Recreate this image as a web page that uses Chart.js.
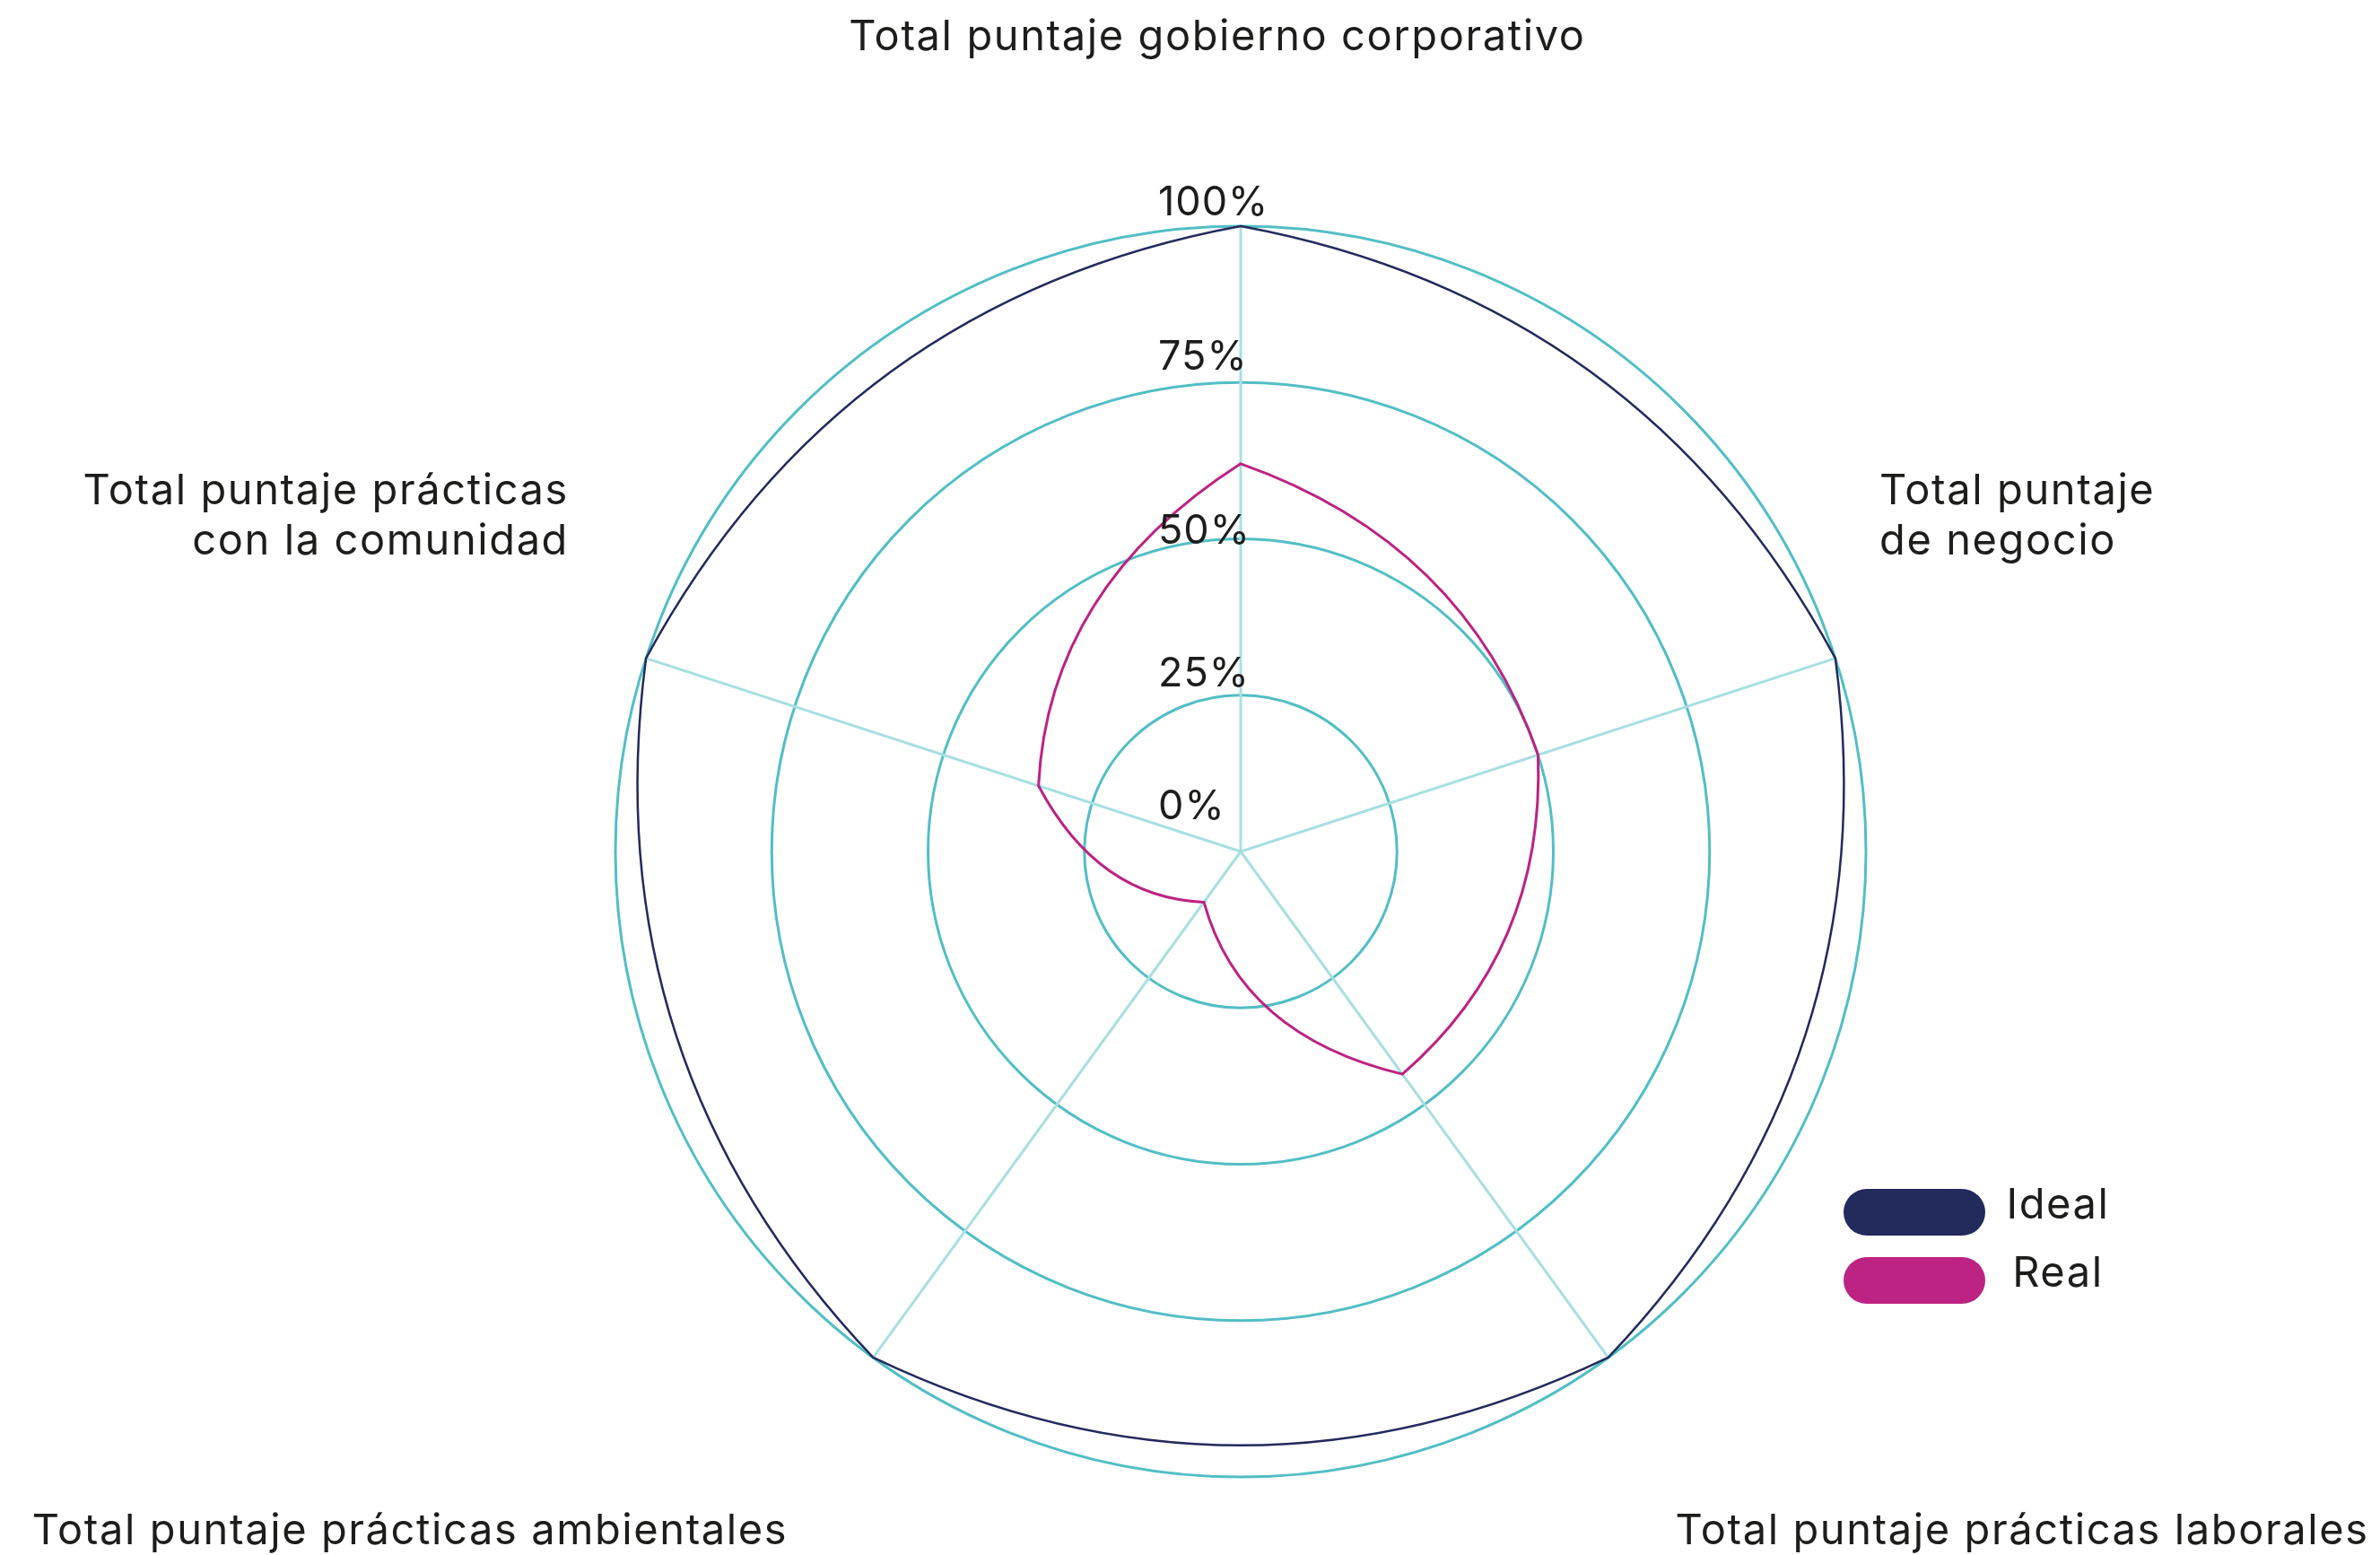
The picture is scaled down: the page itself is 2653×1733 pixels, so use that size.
<!DOCTYPE html>
<html>
<head>
<meta charset="utf-8">
<script src="https://cdn.jsdelivr.net/npm/chart.js@4.4.1/dist/chart.umd.min.js"></script>
<style>
    html, body { margin: 0; padding: 0; background: #ffffff; }
    #wrap { width: 2653px; height: 1733px; position: relative; }
</style>
</head>
<body>
<div id="wrap"><canvas id="chart"></canvas></div>
<script>
    const categories = [
        ['Total puntaje gobierno corporativo'],
        ['Total puntaje', 'de negocio'],
        ['Total puntaje prácticas laborales'],
        ['Total puntaje prácticas ambientales'],
        ['Total puntaje prácticas', 'con la comunidad']
    ];
    const idealValues = [100, 100, 100, 100, 100];
    const realValues = [62, 50, 44, 10, 34];
    const tickValues = [0, 25, 50, 75, 100];
    const tickLabels = ['0%', '25%', '50%', '75%', '100%'];

    const FONT = 'Inter, "Open Sans", sans-serif';
    const TEXT_COLOR = '#1d1d1b';

    // gap between each ring and the baseline of its tick label
    const tickGaps = [36, 10, -5, 14, 12];

    // where each category label sits, relative to the radar centre
    const labelSpots = [
        { dx: -26, dy: -893, align: 'center' },
        { dx: 712, dy: -387, align: 'left' },
        { dx: 871, dy: 772, align: 'center' },
        { dx: -926, dy: 772, align: 'center' },
        { dx: -749, dy: -387, align: 'right' }
    ];

    // segments between vertices bend outwards, with a corner at each vertex
    const polarCurves = {
        id: 'polarCurves',
        beforeDatasetsDraw(chart) {
            const scale = chart.scales.r;
            chart.data.datasets.forEach((ds, di) => {
                const meta = chart.getDatasetMeta(di);
                const pts = meta.data;
                const n = pts.length;
                for (let i = 0; i < n; i++) {
                    const a = pts[i];
                    const b = pts[(i + 1) % n];
                    const ra = Math.hypot(a.x - scale.xCenter, a.y - scale.yCenter);
                    const rb = Math.hypot(b.x - scale.xCenter, b.y - scale.yCenter);
                    const q = scale.getPointPosition(i + 0.5, 1.09 * (ra + rb) / 2);
                    a.cp2x = a.x + 2 / 3 * (q.x - a.x);
                    a.cp2y = a.y + 2 / 3 * (q.y - a.y);
                    b.cp1x = b.x + 2 / 3 * (q.x - b.x);
                    b.cp1y = b.y + 2 / 3 * (q.y - b.y);
                }
                meta.dataset._pointsUpdated = true;
                meta.dataset._path = undefined;
            });
        }
    };

    const textBits = {
        id: 'textBits',
        afterDatasetsDraw(chart) {
            const ctx = chart.ctx;
            const scale = chart.scales.r;
            const cx = scale.xCenter;
            const cy = scale.yCenter;

            ctx.save();
            ctx.fillStyle = TEXT_COLOR;
            ctx.textBaseline = 'alphabetic';

            // tick labels
            ctx.font = '400 45px ' + FONT;
            ctx.letterSpacing = '1px';
            ctx.textAlign = 'left';
            tickValues.forEach((v, i) => {
                const d = scale.getDistanceFromCenterForValue(v);
                ctx.fillText(tickLabels[i], cx - 92, cy - d - tickGaps[i]);
            });

            // category labels
            ctx.font = '400 47px ' + FONT;
            ctx.letterSpacing = '1.6px';
            chart.data.labels.forEach((lines, i) => {
                const spot = labelSpots[i];
                ctx.textAlign = spot.align;
                lines.forEach((line, k) => {
                    ctx.fillText(line, cx + spot.dx, cy + spot.dy + k * 56);
                });
            });

            // legend
            chart.data.datasets.forEach((ds, i) => {
                const top = 1325 + i * 76;
                ctx.fillStyle = ds.borderColor;
                ctx.beginPath();
                ctx.roundRect(2055, top, 158, 52, 26);
                ctx.fill();
                ctx.fillStyle = TEXT_COLOR;
                ctx.textAlign = 'center';
                ctx.fillText(ds.label, 2294, top + 33);
            });
            ctx.restore();
        }
    };

    new Chart(document.getElementById('chart'), {
        type: 'radar',
        data: {
            labels: categories,
            datasets: [
                {
                    label: 'Ideal',
                    data: idealValues,
                    borderColor: '#232a5c',
                    borderWidth: 2.5,
                    pointRadius: 0,
                    fill: false,
                    tension: 0.0001
                },
                {
                    label: 'Real',
                    data: realValues,
                    borderColor: '#bc2382',
                    borderWidth: 3,
                    pointRadius: 0,
                    fill: false,
                    tension: 0.0001
                }
            ]
        },
        options: {
            responsive: true,
            maintainAspectRatio: false,
            animation: false,
            layout: {
                padding: { left: 686, right: 572, top: 252, bottom: 86 }
            },
            plugins: {
                legend: { display: false },
                tooltip: { enabled: false }
            },
            scales: {
                r: {
                    min: 0,
                    max: 100,
                    ticks: { stepSize: 25, display: false },
                    grid: { circular: true, color: '#52bec5', lineWidth: 3 },
                    angleLines: { color: '#a8dfe2', lineWidth: 3 },
                    pointLabels: { display: false }
                }
            }
        },
        plugins: [polarCurves, textBits]
    });
</script>
</body>
</html>
